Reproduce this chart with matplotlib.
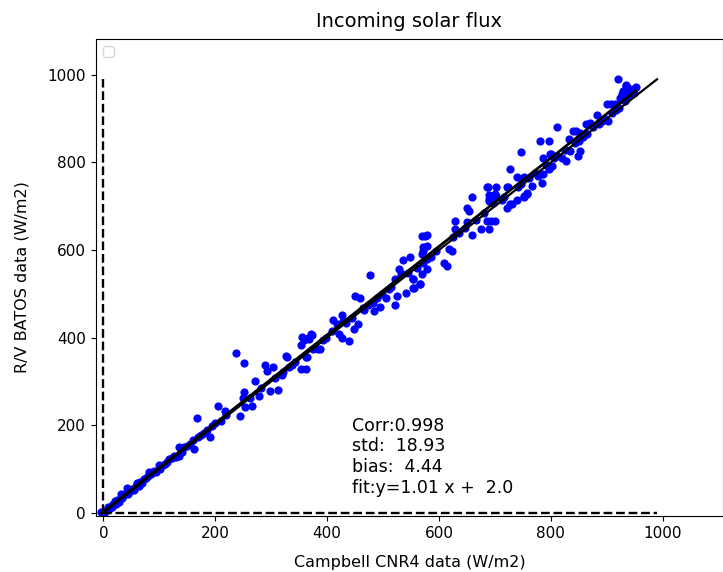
import matplotlib
matplotlib.use("Agg")
import matplotlib.pyplot as plt
import numpy as np

# --- data (W/m2) ---
campbell = [
    -4, 0, 2, 3, 5, 8, 10, 12, 15, 18,
    20, 22, 25, 28, 31, 33, 36, 40, 43, 45,
    48, 52, 55, 58, 60, 63, 66, 70, 73, 76,
    80, 82, 86, 90, 95, 100, 102, 106, 110, 114,
    118, 123, 126, 130, 135, 135, 138, 141, 145, 150,
    155, 162, 160, 167, 170, 175, 180, 185, 190, 195,
    200, 205, 210, 218, 220,
    238, 251, 244, 253, 266, 249, 252, 262, 272, 279,
    282, 289, 292, 298, 303, 307, 312, 319, 322, 327,
    329, 332, 338, 343, 354, 363, 354, 356, 358, 363,
    364, 366, 367, 372, 373, 375, 384, 387, 393, 399,
    408, 411, 417, 422, 426, 429, 426, 434, 440, 444,
    448, 450, 456, 459, 464, 466, 476, 474, 482, 484,
    489, 494, 499, 505, 510, 515, 521, 525, 521, 528,
    532, 534, 535, 541, 545, 548, 554, 554, 556, 553,
    560, 566, 567, 569, 571, 572, 569, 572, 569, 575,
    578, 578, 578, 578, 585, 595,
    609, 615, 618, 623, 626, 628, 628, 636, 646, 651,
    651, 654, 659, 659, 666, 675, 681, 686, 689, 694,
    700, 686, 687, 689, 690, 690, 694, 696, 697, 700,
    702, 703, 712, 717, 722, 722, 723, 727, 728, 731,
    740, 740, 741, 746, 747, 752, 753, 753, 758, 758,
    762, 767, 772, 778, 781, 784, 787, 787, 792, 796,
    796, 799, 800, 802, 805,
    812, 812, 820, 825, 828, 832, 835, 839, 843, 846,
    849, 851, 852, 852, 857, 863, 865, 870, 875, 882,
    887, 892, 897, 900, 903, 907, 910, 915, 917, 921,
    922, 924, 927, 929, 932, 935, 935, 937, 938, 940,
    942, 945, 947, 949, 952,
]
batos = [
    1, 2, 0, 4, 5, 12, 8, 14, 13, 20,
    27, 20, 28, 25, 43, 33, 38, 45, 56, 42,
    50, 55, 52, 62, 69, 60, 70, 68, 77, 80,
    85, 94, 88, 95, 92, 108, 100, 110, 112, 115,
    122, 126, 130, 128, 130, 149, 140, 138, 150, 152,
    158, 146, 165, 216, 172, 178, 182, 188, 172, 198,
    205, 244, 210, 233, 224,
    364, 342, 221, 242, 244, 263, 275, 262, 301, 267,
    285, 337, 324, 277, 333, 308, 280, 315, 322, 358,
    356, 333, 338, 345, 328, 328, 383, 402, 394, 356,
    355, 399, 397, 408, 406, 375, 374, 375, 395, 400,
    416, 440, 431, 409, 452, 438, 400, 433, 393, 445,
    419, 495, 431, 490, 467, 463, 543, 475, 478, 461,
    490, 470, 500, 491, 512, 515, 475, 495, 534, 556,
    546, 545, 577, 502, 548, 584, 534, 514, 513, 534,
    560, 522, 522, 545, 571, 598, 591, 606, 632, 632,
    556, 579, 610, 635, 585, 598,
    571, 564, 602, 597, 630, 648, 667, 640, 650, 663,
    697, 689, 722, 634, 668, 648, 685, 667, 648, 667,
    667, 743, 744, 716, 712, 726, 721, 708, 720, 728,
    743, 724, 715, 720, 697, 743, 743, 785, 705, 705,
    714, 766, 743, 823, 750, 721, 724, 766, 729, 731,
    765, 747, 775, 769, 849, 754, 773, 810, 795, 785,
    849, 820, 819, 792, 811,
    881, 815, 811, 828, 804, 853, 826, 872, 845, 872,
    815, 848, 826, 868, 858, 889, 865, 891, 880, 909,
    888, 895, 900, 933, 895, 933, 912, 933, 920, 990,
    925, 948, 957, 963, 940, 975, 978, 950, 971, 965,
    955, 960, 968, 958, 972,
]

fit_slope = 1.01
fit_offset = 2.0
stats_text = "Corr:0.998\nstd:  18.93\nbias:  4.44\nfit:y=1.01 x +  2.0"
ref_max = 990

x = np.array(campbell)
y = np.array(batos)

fig = plt.figure(figsize=(7.23, 5.72), dpi=100)
ax = fig.add_axes([0.1324, 0.0979, 0.8676, 0.8339])

ax.scatter(x, y, s=24, c='b', zorder=2)

# zero lines and 1:1 line
ax.plot([0, 0], [0, ref_max], 'k--', lw=1.7)
ax.plot([0, ref_max], [0, 0], 'k--', lw=1.7)
ax.plot([0, ref_max], [0, ref_max], 'k-', lw=1.6, zorder=3)

# linear fit over the data range
xf = np.array([x.min(), x.max()])
ax.plot(xf, fit_slope * xf + fit_offset, 'k-', lw=2, zorder=3)

ax.text(445, 36, stats_text, fontsize=12.5, va='bottom', ha='left')

ax.set_xlim(-13.6, 1108)
ax.set_ylim(-7.5, 1082)
ax.set_xticks([0, 200, 400, 600, 800, 1000])
ax.set_yticks([0, 200, 400, 600, 800, 1000])
ax.tick_params(labelsize=11)

ax.set_xlabel("Campbell CNR4 data (W/m2)", fontsize=11.5, labelpad=10)
ax.set_ylabel("R/V BATOS data (W/m2)", fontsize=11.5, labelpad=13)
ax.set_title("Incoming solar flux", fontsize=14, pad=9)

ax.legend(handles=[], loc='upper left')

fig.savefig("out.png", dpi=100)
